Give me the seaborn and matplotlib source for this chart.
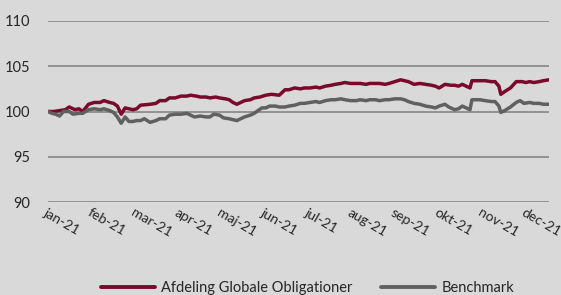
import numpy as np
import pandas as pd
import matplotlib
matplotlib.use("Agg")
import matplotlib.pyplot as plt
import seaborn as sns

# trading-day index (0..260) and index value
fund_day = [0, 3, 6, 9, 11, 14, 16, 18, 21, 24, 27, 29, 32, 34, 36, 38, 40, 42, 44, 46,
            48, 53, 56, 58, 61, 63, 66, 69, 72, 74, 77, 79, 82, 84, 87, 89, 92, 94, 96, 98,
            100, 102, 105, 107, 110, 113, 116, 120, 123, 125, 128, 131, 133, 136, 139, 141,
            144, 147, 149, 152, 154, 157, 160, 162, 165, 167, 170, 172, 175, 177, 180, 183,
            185, 187, 190, 193, 196, 199, 201, 203, 206, 209, 211, 213, 215, 217, 219, 220,
            224, 227, 230, 232, 234, 235, 237, 240, 243, 246, 248, 250, 252, 255, 257, 260]
fund_value = [100.0, 100.0, 100.1, 100.2, 100.5, 100.2, 100.3, 100.0, 100.8, 101.0, 101.0,
              101.2, 101.0, 100.9, 100.6, 99.7, 100.4, 100.3, 100.2, 100.3, 100.7, 100.8,
              100.9, 101.2, 101.2, 101.5, 101.5, 101.7, 101.7, 101.8, 101.7, 101.6, 101.6,
              101.5, 101.6, 101.5, 101.4, 101.3, 101.0, 100.8, 101.0, 101.2, 101.3, 101.5,
              101.6, 101.8, 101.9, 101.8, 102.4, 102.4, 102.6, 102.5, 102.6, 102.6, 102.7,
              102.6, 102.8, 102.9, 103.0, 103.1, 103.2, 103.1, 103.1, 103.1, 103.0, 103.1,
              103.1, 103.1, 103.0, 103.1, 103.3, 103.5, 103.4, 103.3, 103.0, 103.1, 103.0,
              102.9, 102.8, 102.6, 103.0, 102.9, 102.9, 102.8, 103.0, 102.8, 102.6, 103.4,
              103.4, 103.4, 103.3, 103.3, 102.8, 101.9, 102.2, 102.6, 103.3, 103.3, 103.2,
              103.3, 103.2, 103.3, 103.4, 103.5]

bench_day = [0, 2, 4, 6, 8, 11, 13, 16, 18, 21, 24, 27, 29, 32, 34, 36, 38, 40, 42, 44, 46,
             48, 50, 53, 56, 58, 61, 63, 66, 69, 72, 74, 76, 79, 82, 84, 86, 89, 91, 94, 96,
             98, 100, 102, 105, 107, 109, 111, 113, 115, 118, 120, 123, 125, 128, 131, 133,
             136, 139, 141, 144, 147, 149, 152, 154, 157, 160, 162, 165, 167, 170, 172, 175,
             177, 180, 183, 185, 187, 190, 193, 196, 199, 201, 203, 206, 208, 211, 213, 215,
             217, 219, 220, 224, 227, 230, 232, 234, 235, 237, 240, 243, 245, 247, 250, 252,
             255, 257, 260]
bench_value = [100.0, 99.8, 99.7, 99.5, 100.0, 100.0, 99.7, 99.8, 99.8, 100.2, 100.3, 100.2,
               100.3, 100.1, 99.9, 99.4, 98.7, 99.4, 98.9, 98.9, 99.0, 99.0, 99.2, 98.8, 99.0,
               99.2, 99.2, 99.6, 99.7, 99.7, 99.8, 99.6, 99.4, 99.5, 99.4, 99.4, 99.7, 99.6,
               99.3, 99.2, 99.1, 99.0, 99.2, 99.4, 99.6, 99.8, 100.1, 100.4, 100.4, 100.6,
               100.6, 100.5, 100.5, 100.6, 100.7, 100.9, 100.9, 101.0, 101.1, 101.0, 101.2,
               101.3, 101.3, 101.4, 101.3, 101.2, 101.2, 101.3, 101.2, 101.3, 101.3, 101.2,
               101.3, 101.3, 101.4, 101.4, 101.3, 101.1, 100.9, 100.8, 100.6, 100.5, 100.4,
               100.6, 100.8, 100.5, 100.2, 100.3, 100.6, 100.4, 100.2, 101.3, 101.3, 101.2,
               101.1, 101.1, 100.6, 99.9, 100.1, 100.5, 101.0, 101.2, 100.9, 101.0, 100.9,
               100.9, 100.8, 100.8]

month_labels = ["jan-21", "feb-21", "mar-21", "apr-21", "maj-21", "jun-21",
                "jul-21", "aug-21", "sep-21", "okt-21", "nov-21", "dec-21"]
series_names = ["Afdeling Globale Obligationer", "Benchmark"]
y_ticks = [90, 95, 100, 105, 110]

df = pd.concat([
    pd.DataFrame({"day": fund_day, "value": fund_value, "serie": series_names[0]}),
    pd.DataFrame({"day": bench_day, "value": bench_value, "serie": series_names[1]}),
])

sns.set_theme(style="white", rc={"figure.facecolor": "#D9D9D9", "axes.facecolor": "#D9D9D9"})
plt.rcParams["font.family"] = ["Lato", "DejaVu Sans"]

fig = plt.figure(figsize=(5.61, 2.95), dpi=100)
ax = fig.add_axes([0.0856, 0.315, 0.893, 0.614])

sns.lineplot(data=df, x="day", y="value", hue="serie", ax=ax,
             palette=["#7A0A2C", "#606060"], linewidth=2.5, legend=False)

ax.set_ylim(90, 110)
ax.set_xlim(0, 260)
ax.set_yticks(y_ticks)
for y in y_ticks:
    ax.axhline(y, color="#8C8C8C", linewidth=1.3, zorder=0)
for s in ax.spines.values():
    s.set_visible(False)

ax.set_xticks(np.arange(len(month_labels)) * 22.5)
ax.set_xticklabels(month_labels, rotation=-30, ha="left", va="top",
                   rotation_mode="anchor", fontsize=10, color="#262626")
ax.tick_params(axis="y", labelsize=10.5, labelcolor="#262626", length=0, pad=13)
ax.tick_params(axis="x", length=0, pad=3)
ax.set_xlabel("")
ax.set_ylabel("")

handles = [plt.Line2D([], [], color=c, linewidth=2.8) for c in ["#7A0A2C", "#606060"]]
fig.legend(handles, series_names, loc="center", bbox_to_anchor=(0.548, 0.025), ncol=2,
           frameon=False, fontsize=10.5, handlelength=3.7, columnspacing=2.0,
           handletextpad=0.4, labelcolor="#262626")

fig.savefig("out.png", dpi=100, facecolor=fig.get_facecolor())
